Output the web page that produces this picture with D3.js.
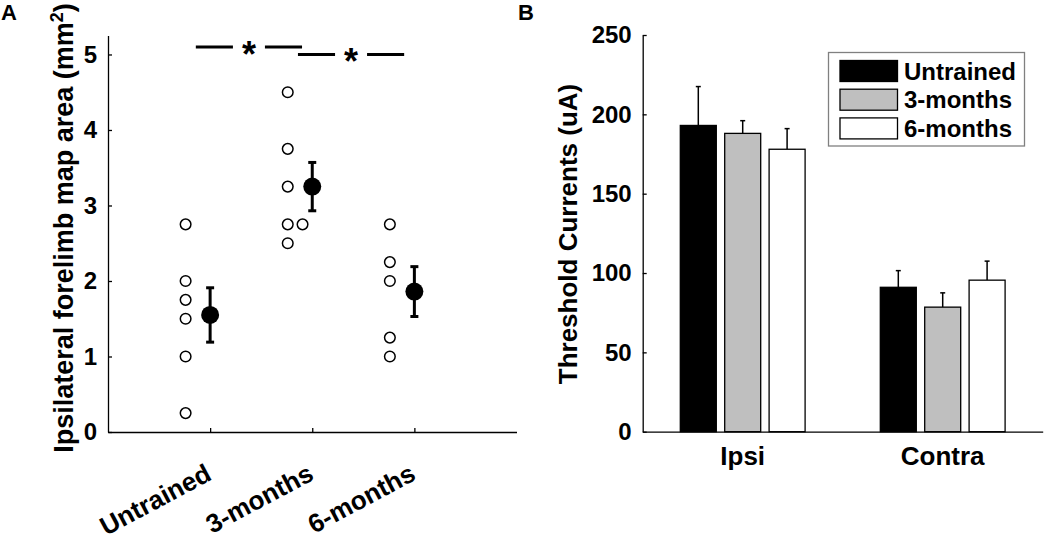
<!DOCTYPE html>
<html>
<head>
<meta charset="utf-8">
<script src="https://cdn.jsdelivr.net/npm/d3@7"></script>
<style>
  body { margin: 0; background: #fff; }
  svg { font-family: "Liberation Sans", Arial, sans-serif; font-weight: bold; }
</style>
</head>
<body>
<svg id="chart" width="1050" height="540"></svg>
<script>
// ---- panel A data ----
const groupsA = ['Untrained', '3-months', '6-months']
const untrainedPts = [2.75, 2.0, 1.75, 1.5, 1.0, 0.25]
const threeMonthPts = [4.5, 3.75, 3.25, 2.75, 2.75, 2.5]
const sixMonthPts = [2.75, 2.25, 2.0, 1.25, 1.0]
const meansA = [1.55, 3.25, 1.86]
const semA = [0.36, 0.32, 0.33]
const ticksA = [0, 1, 2, 3, 4, 5]
// significance bars: [from group pos, to group pos, height]
const sigBars = [[0.86, 1.9, 5.1], [1.86, 2.9, 5.0]]

// ---- panel B data ----
const sidesB = ['Ipsi', 'Contra']
const seriesB = ['Untrained', '3-months', '6-months']
const untrainedB = [193, 91]
const threeMonthB = [188, 78.5]
const sixMonthB = [178, 95.5]
const untrainedErr = [24.5, 10.5]
const threeMonthErr = [8, 9]
const sixMonthErr = [13, 12]
const ticksB = [0, 50, 100, 150, 200, 250]

const svg = d3.select('#chart')

// ================= Panel A =================
const xA = d3.scaleLinear().domain([0, 4]).range([108, 516.5])
const yA = d3.scaleLinear().domain([0, 5.25]).range([432, 35.6])

const axA = svg.append('g')
axA.append('g')
  .attr('transform', 'translate(0,432)')
  .call(d3.axisBottom(xA).tickValues([1, 2, 3]).tickSize(-4).tickSizeOuter(0).tickFormat(''))
axA.append('g')
  .attr('transform', 'translate(108,0)')
  .call(d3.axisLeft(yA).tickValues(ticksA).tickFormat(d3.format('d'))
    .tickSize(-4).tickSizeOuter(0).tickPadding(11))
axA.selectAll('.domain').attr('stroke-width', 1.3)
axA.selectAll('.tick line').attr('stroke-width', 1.3)
axA.selectAll('.tick text')
  .style('font-size', '24px').style('font-weight', 'bold').attr('fill', '#000')

// rotated group labels
svg.append('g').selectAll('text')
  .data(groupsA)
  .join('text')
  .attr('transform', (d, i) => `translate(${xA(i + 1) + 3},479) rotate(-28)`)
  .attr('text-anchor', 'end')
  .style('font-size', '26px')
  .text(d => d)

// y label
const ylabA = svg.append('text')
  .attr('transform', 'translate(73,228) rotate(-90)')
  .attr('text-anchor', 'middle')
  .style('font-size', '27px')
ylabA.append('tspan').text('Ipsilateral forelimb map area (mm')
ylabA.append('tspan').attr('dy', -10).style('font-size', '18px').text('2')
ylabA.append('tspan').attr('dy', 10).text(')')

// individual points
const ptsA = [untrainedPts, threeMonthPts, sixMonthPts]
const dots = []
ptsA.forEach((vals, gi) => {
  const seen = {}
  vals.forEach(v => {
    const k = seen[v] || 0
    seen[v] = k + 1
    dots.push({x: gi + 1 - 0.24 + k * 0.145, y: v})
  })
})
svg.append('g').selectAll('circle')
  .data(dots)
  .join('circle')
  .attr('cx', d => xA(d.x))
  .attr('cy', d => yA(d.y))
  .attr('r', 5.3)
  .attr('fill', '#fff')
  .attr('stroke', '#000')
  .attr('stroke-width', 1.5)

// means with error bars
const meanG = svg.append('g')
meansA.forEach((m, i) => {
  const cx = xA(i + 1)
  meanG.append('line')
    .attr('x1', cx).attr('x2', cx)
    .attr('y1', yA(m - semA[i])).attr('y2', yA(m + semA[i]))
    .attr('stroke', '#000').attr('stroke-width', 3)
  ;[m - semA[i], m + semA[i]].forEach(v => {
    meanG.append('line')
      .attr('x1', cx - 4).attr('x2', cx + 4)
      .attr('y1', yA(v)).attr('y2', yA(v))
      .attr('stroke', '#000').attr('stroke-width', 3)
  })
  meanG.append('circle')
    .attr('cx', cx).attr('cy', yA(m)).attr('r', 9).attr('fill', '#000')
})

// significance bars
const sigG = svg.append('g')
sigBars.forEach(([a, b, h]) => {
  const x1 = xA(a), x2 = xA(b), mid = (x1 + x2) / 2, y = yA(h)
  sigG.append('line').attr('x1', x1).attr('x2', mid - 16).attr('y1', y).attr('y2', y)
    .attr('stroke', '#000').attr('stroke-width', 3)
  sigG.append('line').attr('x1', mid + 16).attr('x2', x2).attr('y1', y).attr('y2', y)
    .attr('stroke', '#000').attr('stroke-width', 3)
  sigG.append('text').attr('x', mid).attr('y', y + 20)
    .attr('text-anchor', 'middle').style('font-size', '36px').text('*')
})

svg.append('text').attr('x', 1).attr('y', 20).style('font-size', '22px').text('A')

// ================= Panel B =================
const xB = d3.scaleLinear().domain([0.5, 2.5]).range([642.7, 1042.7])
const yB = d3.scaleLinear().domain([0, 250]).range([431.7, 35])
const offsets = [-0.222, 0, 0.222]
const barW = 0.18
const fills = ['#000', '#bfbfbf', '#fff']
const valsB = [untrainedB, threeMonthB, sixMonthB]
const errsB = [untrainedErr, threeMonthErr, sixMonthErr]

const bars = []
valsB.forEach((vals, si) => vals.forEach((v, gi) => {
  bars.push({s: si, g: gi, v: v, e: errsB[si][gi]})
}))

// error bars (upper only) drawn first, bars on top
const errG = svg.append('g')
bars.forEach(d => {
  const cx = xB(d.g + 1 + offsets[d.s])
  errG.append('line').attr('x1', cx).attr('x2', cx)
    .attr('y1', yB(d.v)).attr('y2', yB(d.v + d.e))
    .attr('stroke', '#000').attr('stroke-width', 1.5)
  errG.append('line').attr('x1', cx - 2.5).attr('x2', cx + 2.5)
    .attr('y1', yB(d.v + d.e)).attr('y2', yB(d.v + d.e))
    .attr('stroke', '#000').attr('stroke-width', 1.5)
})

svg.append('g').selectAll('rect')
  .data(bars)
  .join('rect')
  .attr('x', d => xB(d.g + 1 + offsets[d.s] - barW / 2))
  .attr('width', d => xB(barW) - xB(0))
  .attr('y', d => yB(d.v))
  .attr('height', d => yB(0) - yB(d.v))
  .attr('fill', d => fills[d.s])
  .attr('stroke', '#000')
  .attr('stroke-width', 1.3)

const axB = svg.append('g')
axB.append('g')
  .attr('transform', 'translate(0,431.7)')
  .call(d3.axisBottom(xB).tickValues([]).tickSizeOuter(0))
axB.append('g')
  .attr('transform', 'translate(642.7,0)')
  .call(d3.axisLeft(yB).tickValues(ticksB).tickSize(-4).tickSizeOuter(0).tickPadding(11))
axB.selectAll('.domain').attr('stroke-width', 1.3)
axB.selectAll('.tick line').attr('stroke-width', 1.3)
axB.selectAll('.tick text')
  .style('font-size', '24px').style('font-weight', 'bold').attr('fill', '#000')

svg.append('g').selectAll('text')
  .data(sidesB)
  .join('text')
  .attr('x', (d, i) => xB(i + 1))
  .attr('y', 465)
  .attr('text-anchor', 'middle')
  .style('font-size', '26px')
  .text(d => d)

svg.append('text')
  .attr('transform', 'translate(577,234) rotate(-90)')
  .attr('text-anchor', 'middle')
  .style('font-size', '26px')
  .text('Threshold Currents (uA)')

// legend
const leg = svg.append('g').attr('transform', 'translate(828.5,52.5)')
leg.append('rect').attr('width', 196).attr('height', 93.5)
  .attr('fill', '#fff').attr('stroke', '#808080').attr('stroke-width', 1.3)
const legRow = leg.selectAll('.row')
  .data(seriesB)
  .join('g')
  .attr('class', 'row')
  .attr('transform', (d, i) => `translate(0,${8 + i * 28.7})`)
legRow.append('rect')
  .attr('x', 11.5).attr('width', 57.5).attr('height', 21)
  .attr('fill', (d, i) => fills[i]).attr('stroke', '#000').attr('stroke-width', 1.3)
legRow.append('text')
  .attr('x', 75.5).attr('y', 19)
  .style('font-size', '24px')
  .text(d => d)

svg.append('text').attr('x', 518).attr('y', 20).style('font-size', '22px').text('B')
</script>
</body>
</html>
